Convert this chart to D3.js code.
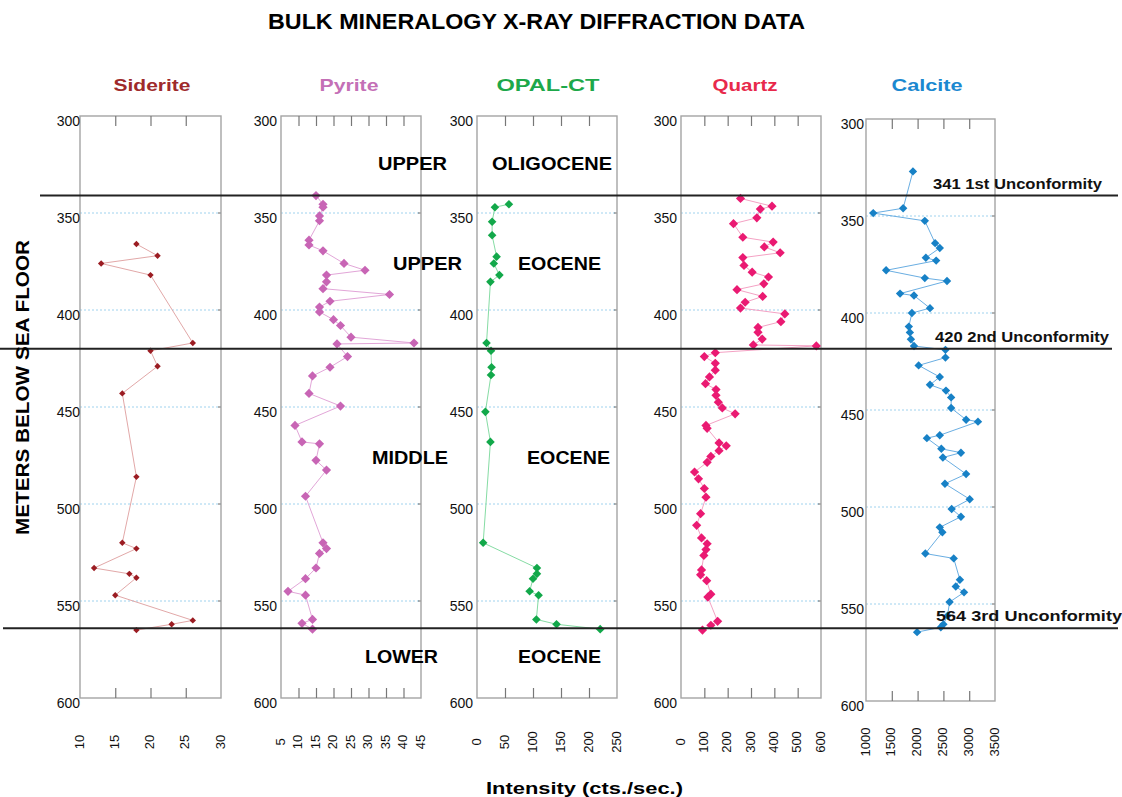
<!DOCTYPE html>
<html>
<head>
<meta charset="utf-8">
<script src="https://cdn.jsdelivr.net/npm/d3@7"></script>
<style>
  html, body { margin: 0; padding: 0; background: #fff; }
  svg { display: block; font-family: Arial, "Liberation Sans", sans-serif; }
</style>
</head>
<body>
<svg id="chart" width="1122" height="797"></svg>
<script>
// ---- Data: depth (m below sea floor) and XRD intensity (cts./sec.) ----
const sideriteDepth = [366, 372, 376, 382, 417, 421, 429, 443, 486, 520, 523, 533, 536, 538, 547, 560, 562, 565];
const sideriteValue = [18, 21, 13, 20, 26, 20, 21, 16, 18, 16, 18, 12, 17, 18, 15, 26, 23, 18];

const pyriteDepth = [341, 345.5, 347, 351.5, 354, 364, 366.5, 369.5, 376, 379.5, 382, 385.5, 389, 392, 395.5, 398.5, 401, 405, 408, 414, 417, 417.5, 424, 429.5, 434, 443, 449.5, 459.5, 468, 469, 477.5, 482.5, 496, 520, 523, 525.5, 533, 538.5, 545, 547, 559.5, 561.5, 564.5];
const pyriteValue = [15, 17, 17, 16, 16, 13, 13, 17, 23, 29, 18, 18, 17, 36, 19, 16, 16, 20, 22, 25, 43, 21, 24, 19, 14, 13, 22, 9, 11, 16, 15, 18, 12, 17, 18, 16, 15, 12, 7, 12, 14, 11, 14];

const opalDepth = [345.5, 347, 354.5, 361.5, 372.5, 376, 382, 385.5, 417, 421, 429.5, 433.5, 452.5, 468, 520, 533, 536, 538.5, 545, 547, 559.5, 562, 564.5];
const opalValue = [57, 32, 27, 27, 35, 30, 40, 24, 17, 25, 26, 25, 15, 24, 11, 107, 107, 100, 94, 110, 106, 142, 220];

const quartzDepth = [342.5, 346.5, 348, 352.5, 355.5, 362.5, 365, 367.5, 370.5, 373, 377, 380.5, 383, 386.5, 389.5, 393, 396, 399, 402, 406, 409, 411.5, 415, 418, 418.5, 422, 424, 427.5, 431, 434.5, 438, 441, 444, 447.5, 450.5, 453.5, 459.5, 461, 468.5, 470, 472.5, 475.5, 478.5, 483.5, 487, 492, 496.5, 505, 511, 517.5, 520.5, 523.5, 526.5, 534, 536.5, 539.5, 546.5, 548, 560.5, 562.5, 565];
const quartzValue = [255, 390, 340, 325, 225, 265, 395, 357, 425, 265, 270, 305, 375, 355, 240, 350, 275, 255, 445, 428, 330, 330, 348, 310, 580, 147, 100, 147, 147, 122, 105, 150, 150, 160, 177, 232, 107, 112, 163, 194, 163, 128, 112, 58, 75, 100, 107, 84, 67, 88, 112, 107, 98, 88, 84, 110, 128, 115, 157, 128, 92];

const calciteDepth = [327, 346, 348.5, 352.5, 364, 366.5, 371.5, 373, 378, 382, 383.5, 390, 391, 397.5, 400, 407, 410, 413.5, 417, 419, 423, 427, 433, 437, 440, 443.5, 449, 455, 456, 463, 464.5, 470, 472, 474.5, 483, 488, 496, 501, 505, 510.5, 513, 524, 526.5, 537.5, 541, 544, 549, 556, 560.5, 562, 564.5];
const calciteValue = [1910, 1720, 1140, 2140, 2340, 2430, 2160, 2360, 1390, 2140, 2570, 1660, 1930, 2240, 1890, 1830, 1850, 1870, 1930, 2540, 2540, 2020, 2430, 2240, 2550, 2650, 2650, 2940, 3170, 2430, 2180, 2460, 2840, 2490, 2940, 2530, 3010, 2660, 2840, 2430, 2480, 2150, 2700, 2820, 2740, 2900, 2620, 2580, 2500, 2450, 1990];

// Unconformities
const unconformityDepth = [341, 420, 564];
const unconformityLabel = ["341 1st Unconformity", "420 2nd Unconformity", "564 3rd Unconformity"];

// Tick labels
const depthTicks = [300, 350, 400, 450, 500, 550, 600];
const depthGrid = [350, 400, 450, 500, 550];
const sideriteTicks = [10, 15, 20, 25, 30];
const pyriteTicks = [5, 10, 15, 20, 25, 30, 35, 40, 45];
const opalTicks = [0, 50, 100, 150, 200, 250];
const quartzTicks = [0, 100, 200, 300, 400, 500, 600];
const calciteTicks = [1000, 1500, 2000, 2500, 3000, 3500];

// Stratigraphic labels
const epochText = ["UPPER", "OLIGOCENE", "UPPER", "EOCENE", "MIDDLE", "EOCENE", "LOWER", "EOCENE"];

const svg = d3.select("#chart");

// Panel layout
const panels = [
  { name: "Siderite", depth: sideriteDepth, value: sideriteValue, ticks: sideriteTicks,
    x0: 80, x1: 221, top: 116, bottom: 698, labelGap: 0,
    title: "#9e2a2b", marker: "#9b1c22", line: "#e2a8a8", r: 3.2, titleX: 152, titleW: 77 },
  { name: "Pyrite", depth: pyriteDepth, value: pyriteValue, ticks: pyriteTicks,
    x0: 281, x1: 421, top: 116, bottom: 698, labelGap: 4,
    title: "#c46fb6", marker: "#c865b5", line: "#e2a6d8", r: 4.6, titleX: 349, titleW: 59 },
  { name: "OPAL-CT", depth: opalDepth, value: opalValue, ticks: opalTicks,
    x0: 477, x1: 617, top: 116, bottom: 698, labelGap: 4,
    title: "#1da84a", marker: "#12a84a", line: "#86dca4", r: 4.3, titleX: 548, titleW: 103 },
  { name: "Quartz", depth: quartzDepth, value: quartzValue, ticks: quartzTicks,
    x0: 681, x1: 821, top: 116, bottom: 698, labelGap: 4,
    title: "#e8294b", marker: "#ea1a72", line: "#f4a2c4", r: 4.6, titleX: 745, titleW: 65 },
  { name: "Calcite", depth: calciteDepth, value: calciteValue, ticks: calciteTicks,
    x0: 866, x1: 995, top: 119, bottom: 701, labelGap: 2,
    title: "#1b88d0", marker: "#1781c6", line: "#6aaee2", r: 4.2, titleX: 927, titleW: 71 }
];

const diamond = r => `M0,${-r}L${r},0L0,${r}L${-r},0Z`;

panels.forEach(p => {
  const x = d3.scaleLinear().domain([p.ticks[0], p.ticks[p.ticks.length - 1]]).range([p.x0, p.x1]);
  const y = d3.scaleLinear().domain([300, 600]).range([p.top, p.bottom]);
  const g = svg.append("g");

  // dotted depth grid
  g.selectAll("line.grid").data(depthGrid).join("line")
    .attr("x1", p.x0).attr("x2", p.x1)
    .attr("y1", d => y(d)).attr("y2", d => y(d))
    .attr("stroke", "#9fd2ee").attr("stroke-width", 1).attr("stroke-dasharray", "2,2");
  g.selectAll("line.gtick").data(depthGrid).join("line")
    .attr("x1", p.x1 - 3).attr("x2", p.x1)
    .attr("y1", d => y(d)).attr("y2", d => y(d))
    .attr("stroke", "#666").attr("stroke-width", 1);

  // frame
  g.append("rect").attr("x", p.x0).attr("y", p.top)
    .attr("width", p.x1 - p.x0).attr("height", p.bottom - p.top)
    .attr("fill", "none").attr("stroke", "#a4a4a4").attr("stroke-width", 1.4);

  // inner ticks on top and bottom edges
  const inner = p.ticks.slice(1, -1);
  const topAxis = d3.axisBottom(x).tickValues(inner).tickSize(10).tickFormat("");
  const botAxis = d3.axisTop(x).tickValues(inner).tickSize(10).tickFormat("");
  [[topAxis, p.top], [botAxis, p.bottom]].forEach(([ax, yy]) => {
    const a = g.append("g").attr("transform", `translate(0,${yy})`).call(ax);
    a.select(".domain").remove();
    a.selectAll("line").attr("stroke", "#777").attr("stroke-width", 1.2);
  });

  // depth labels
  const yAxis = d3.axisLeft(y).tickValues(depthTicks).tickSize(0).tickPadding(p.labelGap);
  const ya = g.append("g").attr("transform", `translate(${p.x0},0)`).call(yAxis);
  ya.select(".domain").remove();
  ya.selectAll("text").attr("font-size", 14).attr("fill", "#111")
    .attr("font-family", "Arial, 'Liberation Sans', sans-serif")
    .attr("dy", "0.72em").attr("y", -1);

  // intensity labels (rotated)
  g.selectAll("text.xl").data(p.ticks).join("text")
    .attr("transform", d => `translate(${x(d) - 1},742) rotate(-90)`)
    .attr("text-anchor", "middle").attr("dy", "0.36em")
    .attr("font-size", 13).attr("fill", "#111").text(d => d);

  // mineral title
  g.append("text").attr("x", p.titleX).attr("y", 91)
    .attr("text-anchor", "middle").attr("font-size", 17).attr("font-weight", "bold")
    .attr("fill", p.title).attr("textLength", p.titleW).attr("lengthAdjust", "spacingAndGlyphs")
    .text(p.name);

  // profile line and markers
  const pts = p.depth.map((d, i) => [p.value[i], d]);
  g.append("path").datum(pts)
    .attr("d", d3.line().x(d => x(d[0])).y(d => y(d[1])))
    .attr("fill", "none").attr("stroke", p.line).attr("stroke-width", 1);
  g.selectAll("path.m").data(pts).join("path")
    .attr("transform", d => `translate(${x(d[0])},${y(d[1])})`)
    .attr("d", diamond(p.r)).attr("fill", p.marker);
});

// unconformity lines
const yMain = d3.scaleLinear().domain([300, 600]).range([116, 698]);
const lineStart = [40, 0, 3];
const lineEnd = [1118, 1112, 1118];
svg.selectAll("line.unc").data(unconformityDepth).join("line")
  .attr("x1", (d, i) => lineStart[i]).attr("x2", (d, i) => lineEnd[i])
  .attr("y1", d => yMain(d)).attr("y2", d => yMain(d))
  .attr("stroke", "#222").attr("stroke-width", 2);

const uncX = [933, 935, 936];
const uncW = [169, 174, 186];
svg.selectAll("text.unc").data(unconformityLabel).join("text")
  .attr("x", (d, i) => uncX[i])
  .attr("y", (d, i) => yMain(unconformityDepth[i]) - 7)
  .attr("font-size", 15).attr("font-weight", "bold").attr("fill", "#111")
  .attr("textLength", (d, i) => uncW[i]).attr("lengthAdjust", "spacingAndGlyphs")
  .text(d => d);

// epoch / stage labels
const epochX = [378, 492, 393, 518, 372, 527, 365, 518];
const epochW = [69, 120, 69, 83, 76, 83, 73, 83];
const epochY = [170, 170, 270, 270, 464, 464, 663, 663];
svg.selectAll("text.ep").data(epochText).join("text")
  .attr("x", (d, i) => epochX[i]).attr("y", (d, i) => epochY[i])
  .attr("font-size", 18).attr("font-weight", "bold").attr("fill", "#000")
  .attr("textLength", (d, i) => epochW[i]).attr("lengthAdjust", "spacingAndGlyphs")
  .text(d => d);

// titles
svg.append("text").attr("x", 268).attr("y", 29)
  .attr("font-size", 22).attr("font-weight", "bold").attr("fill", "#000")
  .attr("textLength", 537).attr("lengthAdjust", "spacingAndGlyphs")
  .text("BULK MINERALOGY X-RAY DIFFRACTION DATA");

svg.append("text").attr("transform", "translate(29,535) rotate(-90)")
  .attr("font-size", 19).attr("font-weight", "bold").attr("fill", "#000")
  .attr("textLength", 295).attr("lengthAdjust", "spacingAndGlyphs")
  .text("METERS BELOW SEA FLOOR");

svg.append("text").attr("x", 486).attr("y", 794)
  .attr("font-size", 17).attr("font-weight", "bold").attr("fill", "#000")
  .attr("textLength", 197).attr("lengthAdjust", "spacingAndGlyphs")
  .text("Intensity (cts./sec.)");
</script>
</body>
</html>
